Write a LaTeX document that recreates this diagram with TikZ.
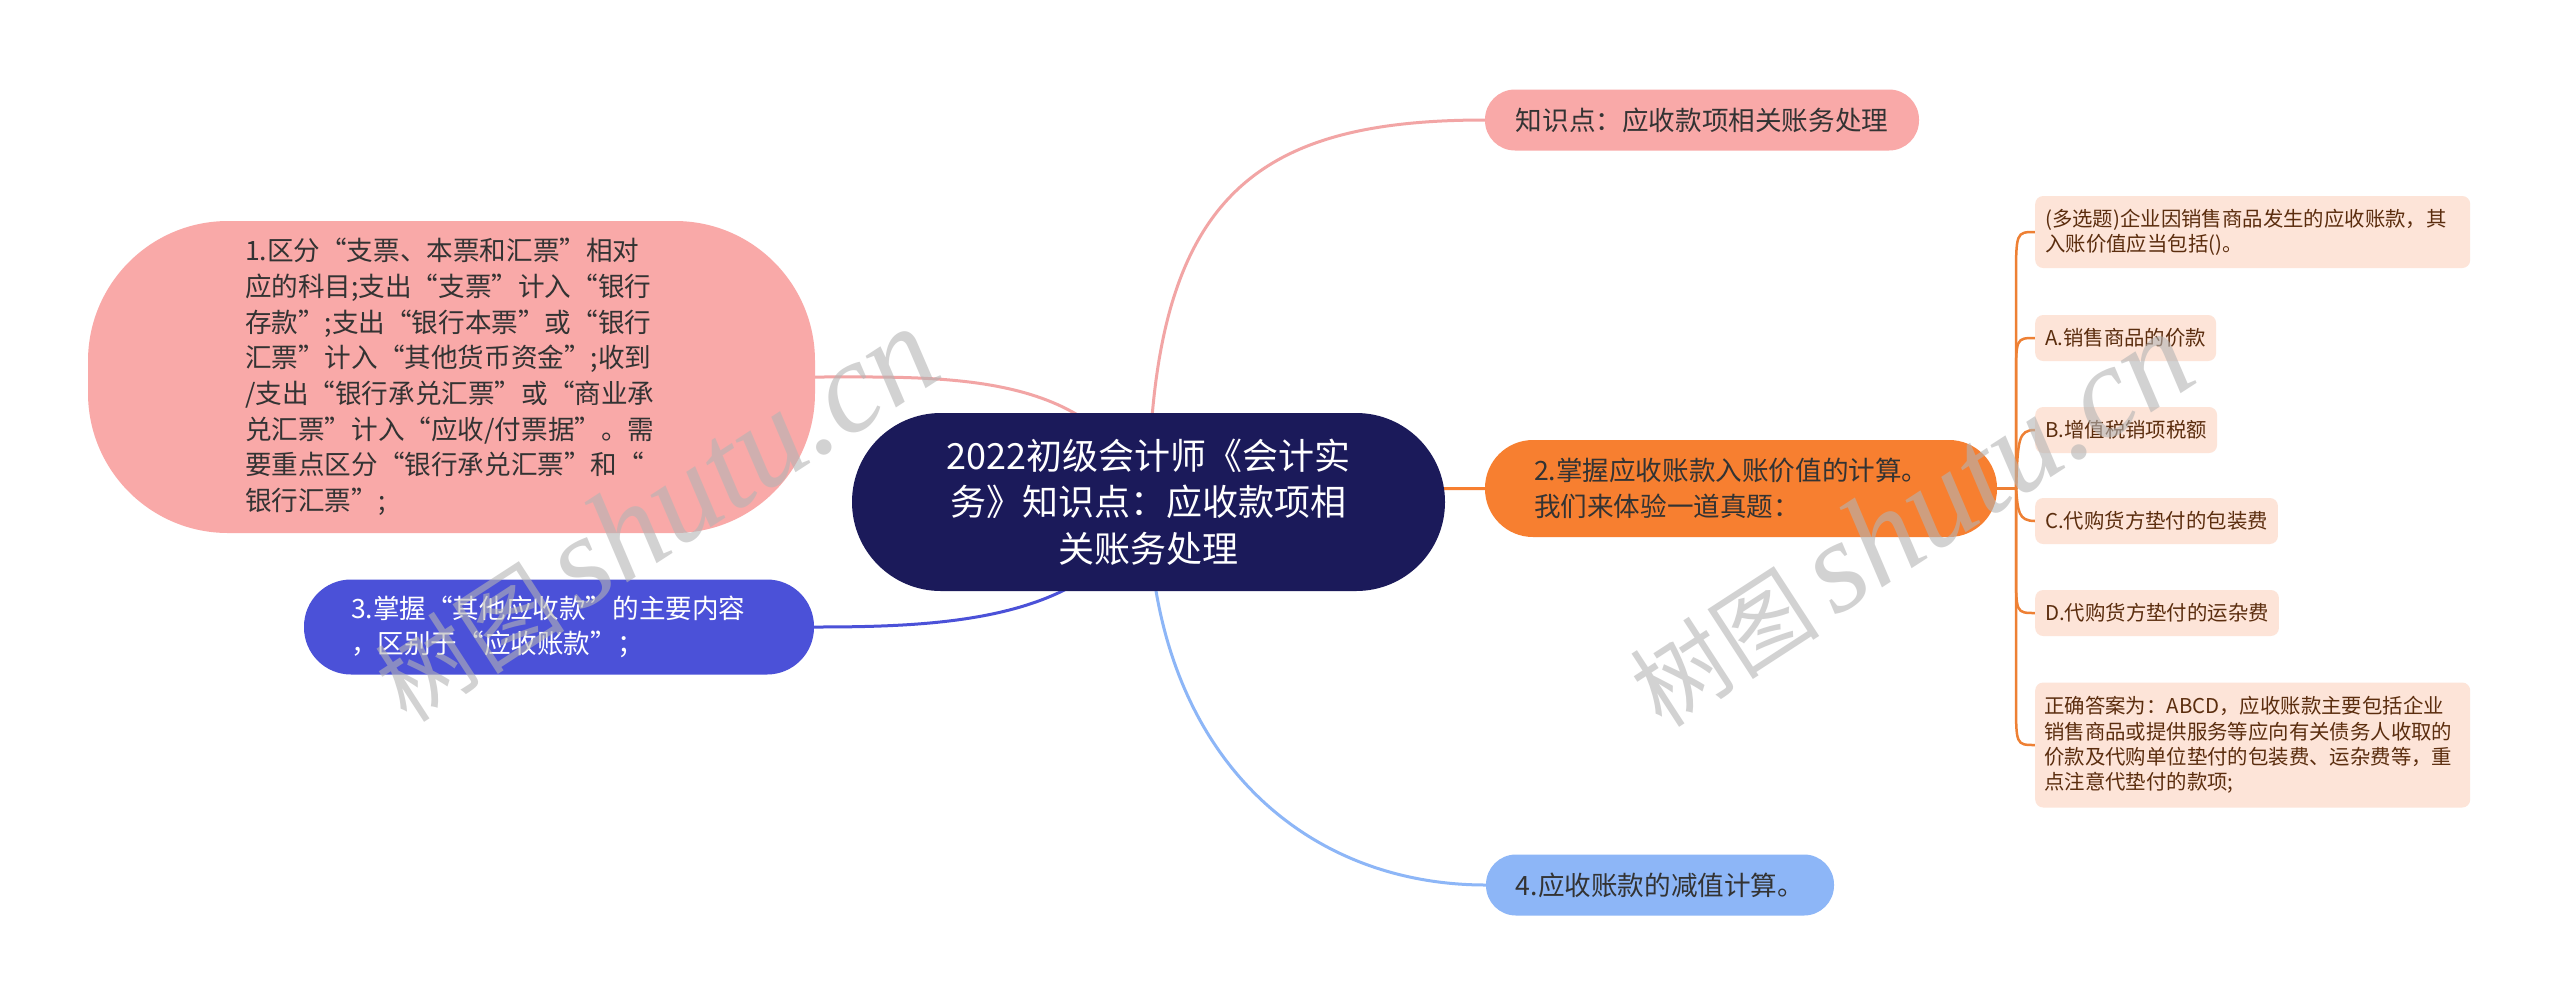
\documentclass[tikz,border=0pt]{standalone}
\usepackage{fontspec}
\setmainfont{Noto Sans CJK SC}
\newfontfamily\wmlatin{Liberation Serif}
\usetikzlibrary{backgrounds}
\definecolor{navy}{HTML}{1B1A5A}
\definecolor{pinkfill}{HTML}{F9A9A8}
\definecolor{pinkline}{HTML}{F2A5A5}
\definecolor{orangefill}{HTML}{F77F30}
\definecolor{orangeline}{HTML}{EE8034}
\definecolor{bluefill}{HTML}{4B51D8}
\definecolor{lightblue}{HTML}{8DB6F7}
\definecolor{leaffill}{HTML}{FDE4D8}
\definecolor{leaftext}{HTML}{5B2D0E}
\definecolor{darktext}{HTML}{333333}
\definecolor{wmgray}{HTML}{B4B4B4}
\tikzset{
  topic/.style={shape=rectangle, inner xsep=0pt, inner ysep=0pt},
  maintext/.style={font=\fontsize{26.6}{35.7}\selectfont},
  leaf/.style={shape=rectangle, fill=leaffill, rounded corners=8pt, text=leaftext,
    font=\fontsize{20.4}{25.3}\selectfont, inner xsep=10pt, inner ysep=0pt, anchor=west},
  link/.style={line width=3pt, line cap=round},
  leaflink/.style={line width=2.5pt, draw=orangeline, line cap=round},
  watermark/.style={rotate=33, text=wmgray, text opacity=0.6}
}
\begin{document}
\begin{tikzpicture}[x=1pt,y=-1pt]
\useasboundingbox (0,0) rectangle (2560,1005);

% central topic
\node[topic, fill=navy, text=white, rounded corners=88.9pt, minimum width=593pt,
  minimum height=178pt, text width=440pt, align=center,
  font=\fontsize{36}{46.5}\selectfont] (c) at (1148.5,502)
  {2022初级会计师《会计实\\务》知识点：应收款项相\\关账务处理};

% main branches
\node[topic, fill=pinkfill, text=darktext, rounded corners=30pt, minimum width=434pt,
  minimum height=61pt, maintext] (k) at (1702,120) {知识点：应收款项相关账务处理};

\node[topic, fill=pinkfill, text=darktext, rounded corners=140pt, minimum width=727pt,
  minimum height=312pt, text width=413pt, align=left, maintext] (n1) at (451.5,377)
  {1.区分“支票、本票和汇票”相对\\应的科目;支出“支票”计入“银行\\存款”;支出“银行本票”或“银行\\汇票”计入“其他货币资金”;收到\\/支出“银行承兑汇票”或“商业承\\兑汇票”计入“应收/付票据”。需\\要重点区分“银行承兑汇票”和“\\银行汇票”;};

\node[topic, fill=orangefill, text=darktext, rounded corners=48pt, minimum width=512pt,
  minimum height=97pt, text width=414pt, align=left, maintext] (n2) at (1741,488.5)
  {2.掌握应收账款入账价值的计算。\\我们来体验一道真题：};

\node[topic, fill=bluefill, text=white, rounded corners=47pt, minimum width=510pt,
  minimum height=95pt, text width=416pt, align=left, maintext] (n3) at (559,627)
  {3.掌握“其他应收款”的主要内容\\，区别于“应收账款”；};

\node[topic, fill=lightblue, text=darktext, rounded corners=30pt, minimum width=348pt,
  minimum height=61pt, maintext] (n4) at (1660,885) {4.应收账款的减值计算。};

% leaves
\node[leaf, text width=415pt, align=left, minimum height=72pt] (l0) at (2035,232)
  {(多选题)企业因销售商品发生的应收账款，其\\入账价值应当包括()。};
\node[leaf, minimum height=46pt] (la) at (2035,338) {A.销售商品的价款};
\node[leaf, minimum height=46pt] (lb) at (2035,430) {B.增值税销项税额};
\node[leaf, minimum height=46pt] (lc) at (2035,521) {C.代购货方垫付的包装费};
\node[leaf, minimum height=46pt] (ld) at (2035,613) {D.代购货方垫付的运杂费};
\node[leaf, text width=417pt, inner xsep=9pt, align=left, minimum height=125pt] (lans) at (2035,745)
  {正确答案为：ABCD，应收账款主要包括企业\\销售商品或提供服务等应向有关债务人收取的\\价款及代购单位垫付的包装费、运杂费等，重\\点注意代垫付的款项;};

\coordinate (j) at (2016,488.5);

\begin{scope}[on background layer]
  \fill[white] (0,0) rectangle (2560,1005);
  \draw[link, draw=pinkline] (c.center) .. controls (1150,200) and (1250,120) .. (k.west);
  \draw[link, draw=pinkline] (c.center) .. controls (1100,370) and (950,377) .. (n1.east);
  \draw[link, draw=orangefill] (c.center) .. controls (1300,488.5) and (1400,488.5) .. (n2.west);
  \draw[link, draw=bluefill] (c.center) .. controls (1100,620) and (950,627) .. (n3.east);
  \draw[link, draw=lightblue] (c.center) .. controls (1150,750) and (1300,885) .. (n4.west);
  \draw[leaflink] (n2.east) -- (j);
  \draw[leaflink] (j) -- (2016,282) .. controls (2016,232) .. (l0.west);
  \draw[leaflink] (j) -- (2016,380) .. controls (2016,338) .. (la.west);
  \draw[leaflink] (j) .. controls (2018,440) and (2018,430) .. (lb.west);
  \draw[leaflink] (j) .. controls (2018,511) and (2018,521) .. (lc.west);
  \draw[leaflink] (j) -- (2016,570) .. controls (2016,613) .. (ld.west);
  \draw[leaflink] (j) -- (2016,700) .. controls (2016,745) .. (lans.west);
\end{scope}

% watermarks
\node[watermark] (wm1) at (655,515) {\fontsize{95}{95}\selectfont 树图\,{\fontsize{130}{130}\wmlatin\itshape shutu.cn}};
\node[watermark] (wm2) at (1910,520) {\fontsize{95}{95}\selectfont 树图\,{\fontsize{130}{130}\wmlatin\itshape shutu.cn}};
\end{tikzpicture}
\end{document}
